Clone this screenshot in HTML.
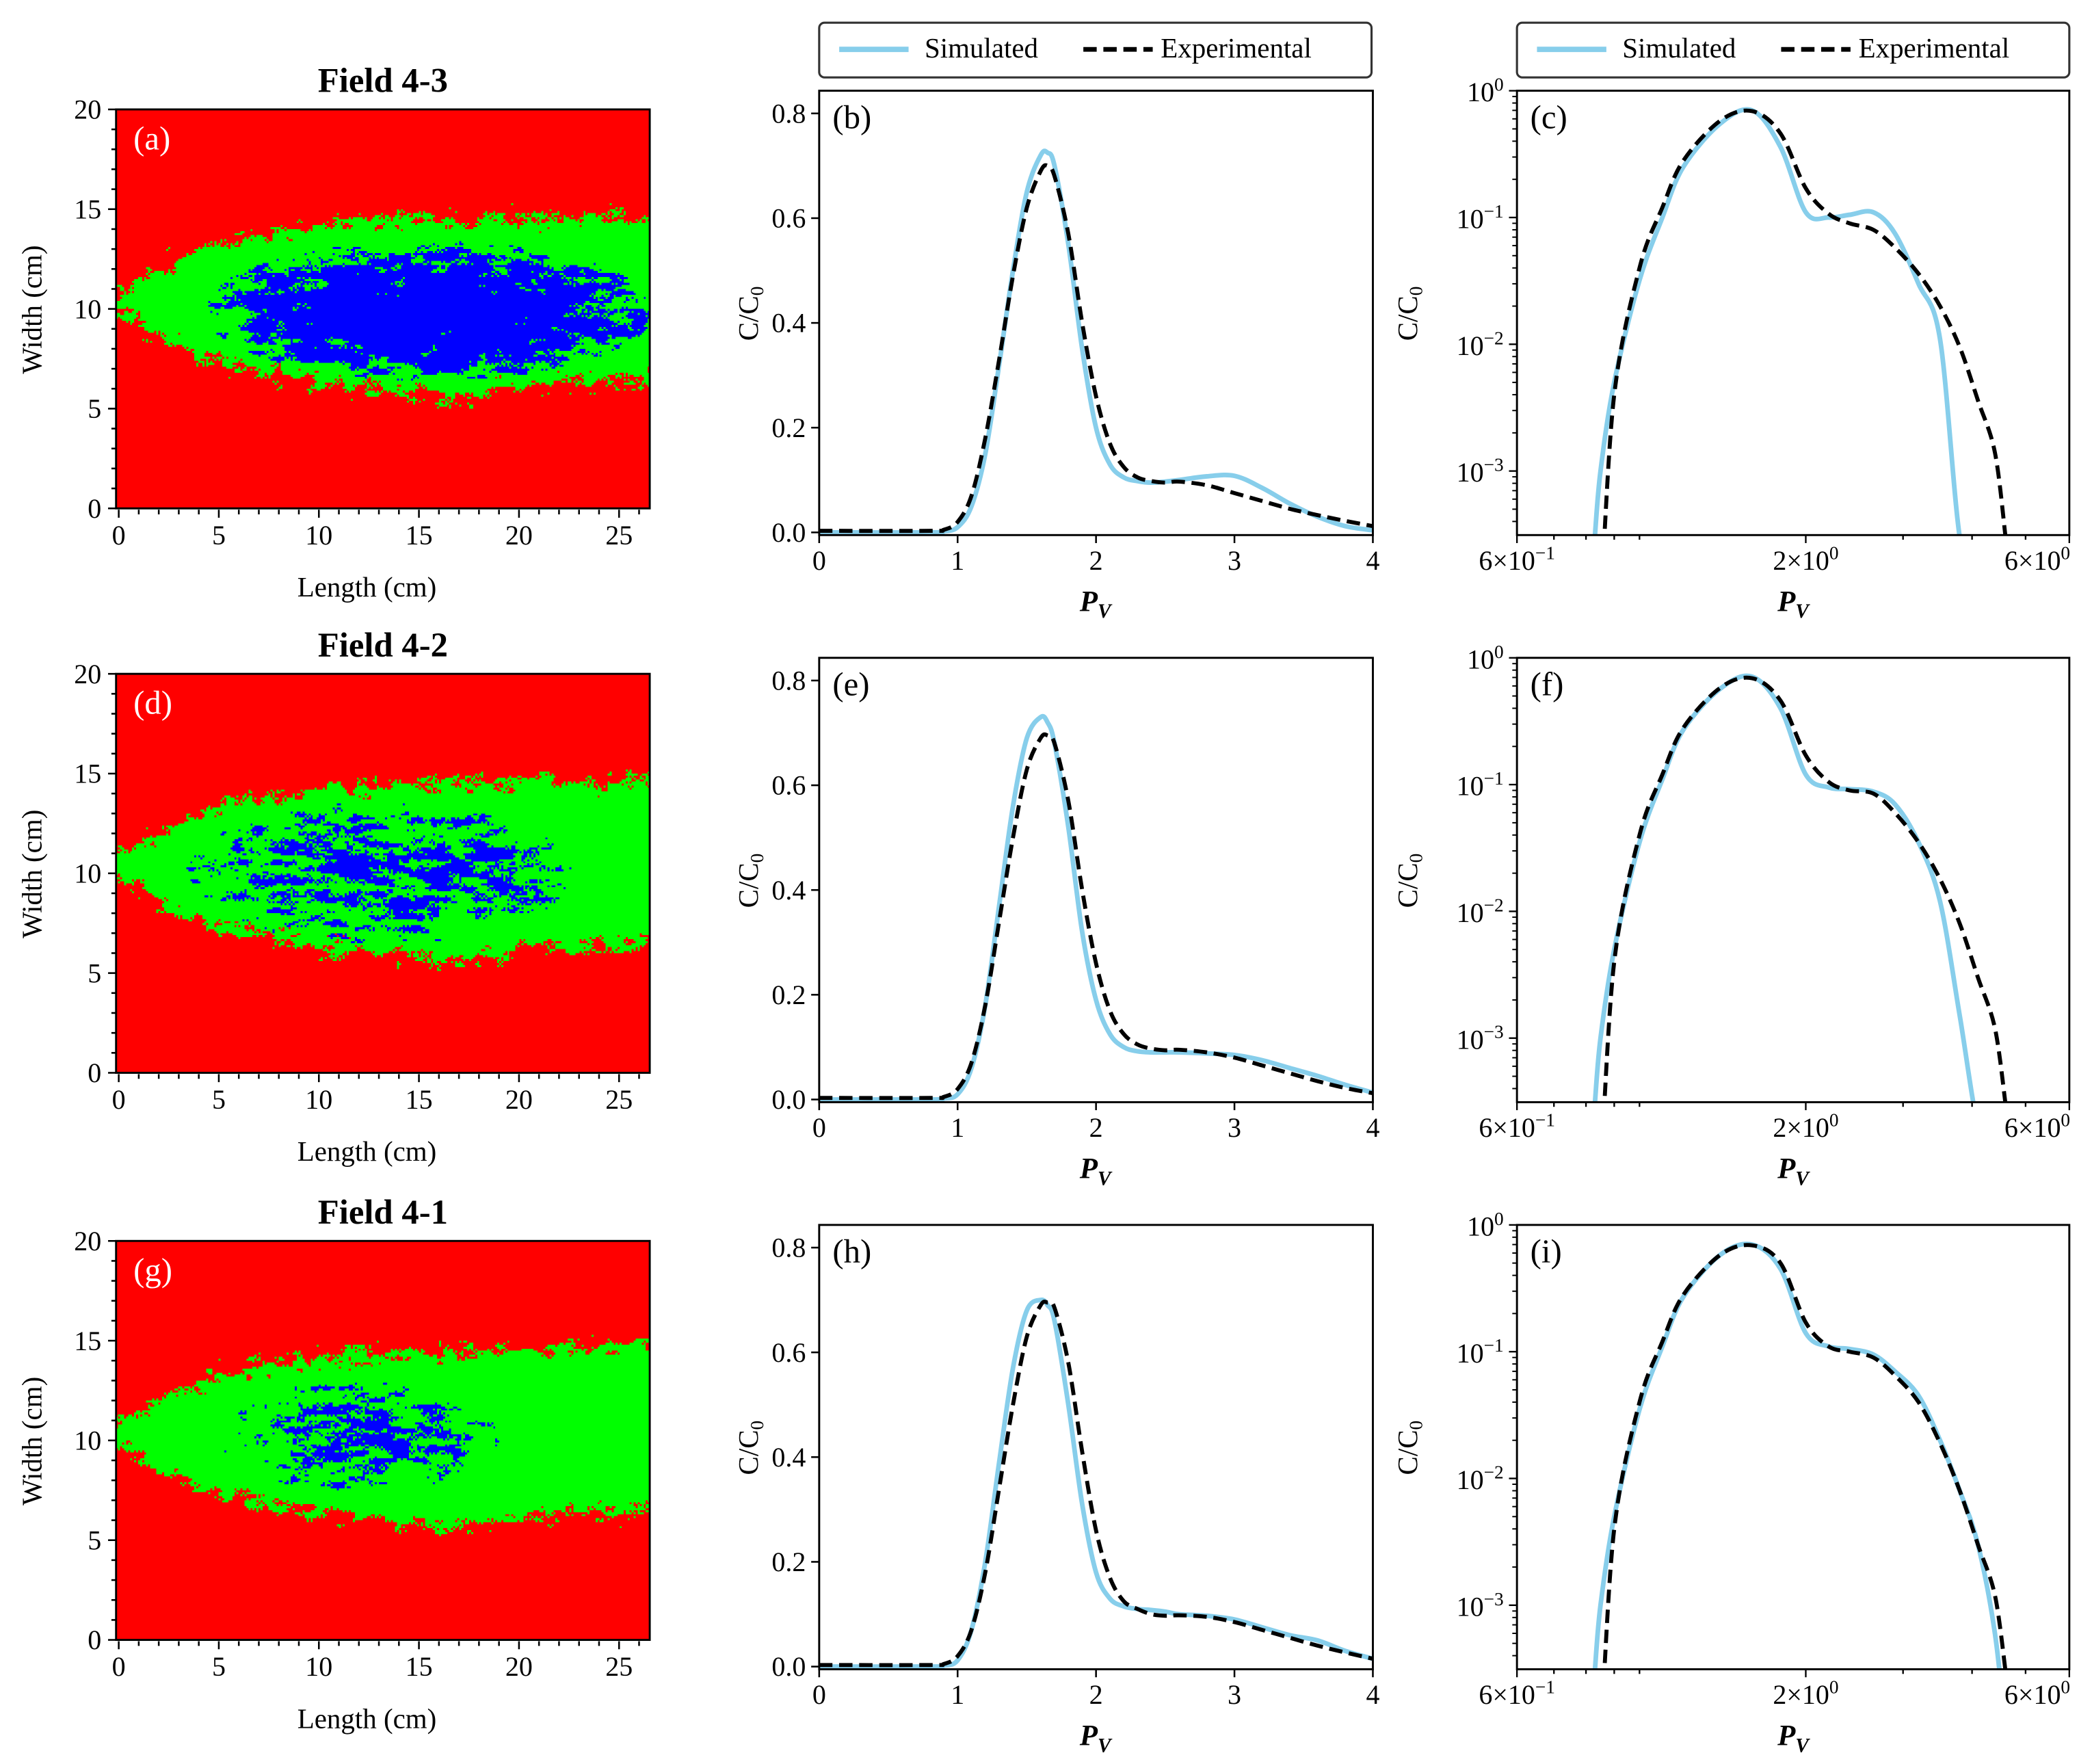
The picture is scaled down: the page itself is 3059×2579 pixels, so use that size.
<!DOCTYPE html>
<html><head><meta charset="utf-8">
<style>
html,body{margin:0;padding:0;background:#fff;}
body{width:3059px;height:2579px;overflow:hidden;position:relative;}
#wrap{position:absolute;left:0;top:0;width:1568px;height:1322px;transform:scale(1.95089,1.95083);transform-origin:0 0;}
svg{position:absolute;left:0;top:0;}
canvas{position:absolute;image-rendering:pixelated;}
text{font-family:"Liberation Serif","DejaVu Serif",serif;fill:#000;}
</style></head>
<body>
<div id="wrap">
<svg id="fig" width="1568" height="1322" viewBox="0 0 1568 1322"></svg>
</div>
<script>
// ---------- data ----------
const linX = [0,0.8,0.9,1.0,1.1,1.2,1.3,1.4,1.5,1.6,1.65,1.7,1.8,1.9,2.0,2.1,2.2,2.3,2.4,2.5,2.6,2.8,3.0,3.2,3.4,3.6,3.8,4.0];
const linExp1 = [0.003,0.003,0.005,0.02,0.07,0.18,0.33,0.49,0.62,0.69,0.70,0.68,0.57,0.40,0.26,0.17,0.125,0.105,0.098,0.095,0.097,0.09,0.075,0.06,0.045,0.033,0.022,0.012];
const linSim1 = [0,0,0.002,0.01,0.05,0.15,0.32,0.50,0.65,0.72,0.725,0.70,0.55,0.35,0.20,0.13,0.105,0.098,0.095,0.097,0.10,0.107,0.108,0.085,0.055,0.03,0.012,0.004];
const linExp2 = [0.003,0.003,0.005,0.02,0.07,0.18,0.34,0.50,0.63,0.69,0.695,0.68,0.57,0.40,0.26,0.17,0.125,0.105,0.097,0.094,0.095,0.09,0.08,0.065,0.05,0.035,0.022,0.012];
const linSim2 = [0,0,0.002,0.01,0.06,0.18,0.37,0.56,0.69,0.73,0.72,0.68,0.52,0.32,0.19,0.125,0.10,0.092,0.09,0.09,0.09,0.088,0.085,0.075,0.06,0.045,0.028,0.013];
const linExp3 = [0.003,0.003,0.005,0.02,0.07,0.18,0.34,0.50,0.63,0.69,0.695,0.685,0.58,0.41,0.26,0.17,0.125,0.11,0.10,0.097,0.098,0.095,0.085,0.07,0.055,0.04,0.027,0.015];
const linSim3 = [0,0,0.002,0.012,0.07,0.20,0.39,0.57,0.68,0.70,0.69,0.66,0.50,0.31,0.18,0.13,0.115,0.11,0.108,0.105,0.10,0.097,0.09,0.075,0.06,0.05,0.03,0.015];
const logX = [0.83,0.85,0.9,1.0,1.1,1.2,1.4,1.6,1.8,2.0,2.2,2.4,2.65,2.9,3.2,3.5,3.8,4.1,4.4,4.6];
const logExp1 = [1e-4,1e-4,0.004,0.04,0.12,0.28,0.58,0.69,0.46,0.17,0.107,0.09,0.08,0.058,0.036,0.02,0.0095,0.0036,0.0014,0.0003];
const logSim1 = [0.0003,0.001,0.005,0.032,0.1,0.25,0.55,0.70,0.36,0.11,0.10,0.105,0.11,0.075,0.03,0.011,0.0003,1e-4,1e-4,1e-4];
const logExp2 = [1e-4,1e-4,0.004,0.04,0.12,0.28,0.58,0.69,0.46,0.17,0.105,0.09,0.085,0.06,0.035,0.018,0.008,0.003,0.0012,0.0003];
const logSim2 = [0.0003,0.001,0.005,0.035,0.11,0.27,0.57,0.71,0.40,0.12,0.095,0.092,0.088,0.07,0.035,0.012,0.0015,0.0002,1e-4,1e-4];
const logExp3 = [1e-4,1e-4,0.004,0.04,0.12,0.28,0.58,0.69,0.50,0.17,0.11,0.10,0.09,0.065,0.04,0.019,0.008,0.003,0.0012,0.0003];
const logSim3 = [0.0003,0.001,0.005,0.035,0.11,0.27,0.58,0.70,0.45,0.14,0.11,0.105,0.095,0.07,0.045,0.02,0.008,0.003,0.0006,1e-4];
const fieldTitles = ["Field 4-3","Field 4-2","Field 4-1"];
const heatLetters = ["(a)","(d)","(g)"];
const linLetters = ["(b)","(e)","(h)"];
const logLetters = ["(c)","(f)","(i)"];
const linXTicks = [0,1,2,3,4];
const linYTicks = [0,0.2,0.4,0.6,0.8];
const heatXTicks = [0,5,10,15,20,25];
const heatYTicks = [0,5,10,15,20];
const logYTicks = [0,-1,-2,-3];

const NS="http://www.w3.org/2000/svg";
const svg=document.getElementById('fig');
function el(tag,attrs,parent){const e=document.createElementNS(NS,tag);for(const k in attrs)e.setAttribute(k,attrs[k]);(parent||svg).appendChild(e);return e;}
function txt(s,x,y,size,anchor,parent,extra){const t=el('text',Object.assign({x:x,y:y,'font-size':size,'text-anchor':anchor||'middle'},extra||{}),parent);t.textContent=s;return t;}
function smooth(pts){let d='M'+pts[0][0].toFixed(2)+','+pts[0][1].toFixed(2);
 for(let i=0;i<pts.length-1;i++){const p0=pts[Math.max(0,i-1)],p1=pts[i],p2=pts[i+1],p3=pts[Math.min(pts.length-1,i+2)];
  const c1=[p1[0]+(p2[0]-p0[0])/6,p1[1]+(p2[1]-p0[1])/6],c2=[p2[0]-(p3[0]-p1[0])/6,p2[1]-(p3[1]-p1[1])/6];
  d+=' C'+c1[0].toFixed(2)+','+c1[1].toFixed(2)+' '+c2[0].toFixed(2)+','+c2[1].toFixed(2)+' '+p2[0].toFixed(2)+','+p2[1].toFixed(2);}
 return d;}

const rowOff=[0,425,850];
const heatOff=[0,423,848];
const linSets=[[linSim1,linExp1],[linSim2,linExp2],[linSim3,linExp3]];
const logSets=[[logSim1,logExp1],[logSim2,logExp2],[logSim3,logExp3]];
const FS=20.5;

// ---------- legends ----------
function legend(x0){
 const g=el('g',{});
 
 
 el('rect',{x:x0,y:17,width:414,height:41,rx:4,fill:'#fff',stroke:'#333','stroke-width':1.6},g);
 const s=el('line',{x1:x0+15,y1:37,x2:x0+67,y2:37,stroke:'#87CEEB','stroke-width':4},g);
 
 
 txt('Simulated',x0+79,43,21,'start',g);
 const e=el('line',{x1:x0+198,y1:37,x2:x0+250,y2:37,stroke:'#000','stroke-width':3.5,'stroke-dasharray':'10,5'},g);
 
 
 txt('Experimental',x0+256,43,21,'start',g);
}
legend(614); legend(1137);

// ---------- panels ----------
for(let r=0;r<3;r++){
 const oy=rowOff[r], hy=heatOff[r];
 const hg=el('g',{});
 
 
 const HX=cm=>89+cm*15, HY=cm=>381+hy-cm*14.95;
 const ttl=txt(fieldTitles[r],287,69+hy,26,'middle',hg,{'font-weight':'bold'});
 
 
 for(let v=0;v<=26;v++){const major=v%5===0;el('line',{x1:HX(v),x2:HX(v),y1:HY(0)+1,y2:HY(0)+1+(major?6:3.5),stroke:'#000','stroke-width':1.3},hg);}
 for(let v=0;v<=20;v++){const major=v%5===0;el('line',{x1:87,x2:87-(major?6:3.5),y1:HY(v),y2:HY(v),stroke:'#000','stroke-width':1.3},hg);}
 heatXTicks.forEach(v=>txt(String(v),HX(v),HY(0)+27,FS,'middle',hg));
 heatYTicks.forEach(v=>txt(String(v),76,HY(v)+7,FS,'end',hg));
 txt('Length (cm)',275,HY(0)+66,21,'middle',hg);
 const yl=txt('Width (cm)',0,0,21,'middle',hg,{transform:'translate(31,'+(232+hy)+') rotate(-90)'});
 
 

 // linear panel
 const L={l:614,r:1029,t:68+oy,b:401+oy};
 const LX=v=>L.l+v*(L.r-L.l)/4, LY=v=>399+oy-v*392.5;
 const lg=el('g',{});
 
 
 const cid='clipL'+r;
 const cp=el('clipPath',{id:cid},lg); el('rect',{x:L.l,y:L.t,width:L.r-L.l,height:L.b-L.t},cp);
 const sets=linSets[r];
 const sp=el('path',{d:smooth(linX.map((x,i)=>[LX(x),LY(sets[0][i])])),fill:'none',stroke:'#87CEEB','stroke-width':3.5,'clip-path':'url(#'+cid+')'},lg);
 
 
 const ep=el('path',{d:smooth(linX.map((x,i)=>[LX(x),LY(sets[1][i])])),fill:'none',stroke:'#000','stroke-width':3,'stroke-dasharray':'10,5','clip-path':'url(#'+cid+')'},lg);
 
 
 el('rect',{x:L.l,y:L.t,width:L.r-L.l,height:L.b-L.t,fill:'none',stroke:'#000','stroke-width':1.5},lg);
 linXTicks.forEach(v=>{el('line',{x1:LX(v),x2:LX(v),y1:L.b,y2:L.b+6,stroke:'#000','stroke-width':1.3},lg);txt(String(v),LX(v),L.b+26,FS,'middle',lg);});
 linYTicks.forEach(v=>{el('line',{x1:L.l,x2:L.l-6,y1:LY(v),y2:LY(v),stroke:'#000','stroke-width':1.3},lg);txt(v.toFixed(1),L.l-10,LY(v)+7,FS,'end',lg);});
 const pv=txt('',821,L.b+57,22,'middle',lg,{'font-style':'italic','font-weight':'bold'});
 pv.innerHTML='P<tspan font-size="15" dy="5">V</tspan>';
 const cy=txt('',0,0,21,'middle',lg,{transform:'translate(568,'+(235+oy)+') rotate(-90)'});
 cy.innerHTML='C/C<tspan font-size="14" dy="4">0</tspan>';
 txt(linLetters[r],624,L.t+28,25,'start',lg);

 // log panel
 const G={l:1137,r:1551,t:68+oy,b:401+oy};
 const GX=v=>G.l+Math.log10(v/0.6)*414, GY=v=>G.t-Math.log10(v)*95;
 const gg=el('g',{});
 
 
 const gid='clipG'+r;
 const cp2=el('clipPath',{id:gid},gg); el('rect',{x:G.l,y:G.t,width:G.r-G.l,height:G.b-G.t},cp2);
 const ls=logSets[r];
 const lsp=el('path',{d:smooth(logX.map((x,i)=>[GX(x),GY(ls[0][i])])),fill:'none',stroke:'#87CEEB','stroke-width':3.5,'clip-path':'url(#'+gid+')'},gg);
 
 
 const lep=el('path',{d:smooth(logX.map((x,i)=>[GX(x),GY(ls[1][i])])),fill:'none',stroke:'#000','stroke-width':3,'stroke-dasharray':'10,5','clip-path':'url(#'+gid+')'},gg);
 
 
 el('rect',{x:G.l,y:G.t,width:G.r-G.l,height:G.b-G.t,fill:'none',stroke:'#000','stroke-width':1.5},gg);
 [0.6,0.7,0.8,0.9,1,2,3,4,5,6].forEach(v=>{const major=(v===0.6||v===2||v===6);el('line',{x1:GX(v),x2:GX(v),y1:G.b,y2:G.b+(major?6:3.5),stroke:'#000','stroke-width':1.2},gg);});
 [[0.6,'6×10','−1',0],[2,'2×10','0',0],[6,'6×10','0',-24]].forEach(t=>{const tt=txt('',GX(t[0])+t[3],G.b+26,FS,'middle',gg);tt.innerHTML=t[1]+'<tspan font-size="14" dy="-8">'+t[2]+'</tspan>';});
 logYTicks.forEach(p=>{el('line',{x1:G.l,x2:G.l-6,y1:GY(Math.pow(10,p)),y2:GY(Math.pow(10,p)),stroke:'#000','stroke-width':1.2},gg);
   const tt=txt('',G.l-10,GY(Math.pow(10,p))+8,FS,'end',gg);tt.innerHTML='10<tspan font-size="14" dy="-8">'+(p===0?'0':'−'+(-p))+'</tspan>';
   for(let m=2;m<=9;m++){const v=m*Math.pow(10,p-1);const yy=GY(v);if(yy<=G.b&&yy>=G.t)el('line',{x1:G.l,x2:G.l-3.5,y1:yy,y2:yy,stroke:'#000','stroke-width':1},gg);}});
 const pv2=txt('',1344,G.b+57,22,'middle',gg,{'font-style':'italic','font-weight':'bold'});
 pv2.innerHTML='P<tspan font-size="15" dy="5">V</tspan>';
 const cy2=txt('',0,0,21,'middle',gg,{transform:'translate(1062,'+(235+oy)+') rotate(-90)'});
 cy2.innerHTML='C/C<tspan font-size="14" dy="4">0</tspan>';
 txt(logLetters[r],1147,G.t+28,25,'start',gg);
}

// ---------- heatmaps (canvas) ----------
function hash(i,j,s){let h=(i*374761393+j*668265263+s*982451653)|0;h=(h^(h>>>13))*1274126177|0;h^=h>>>16;return (h>>>0)/4294967296;}
function vn(x,y,s){const xi=Math.floor(x),yi=Math.floor(y),fx=x-xi,fy=y-yi;const u=fx*fx*(3-2*fx),v=fy*fy*(3-2*fy);
 const a=hash(xi,yi,s),b=hash(xi+1,yi,s),c=hash(xi,yi+1,s),d=hash(xi+1,yi+1,s);return a+(b-a)*u+(c-a)*v+(a-b-c+d)*u*v;}
function interp(xs,ys,x){if(x<=xs[0])return ys[0];for(let i=1;i<xs.length;i++)if(x<=xs[i])return ys[i-1]+(ys[i]-ys[i-1])*(x-xs[i-1])/(xs[i]-xs[i-1]);return ys[ys.length-1];}
const envX=[-0.2,0,2,5,10,15,17,20,26.5];
const envTop=[10.7,10.8,12,13.3,14.2,14.5,14.5,14.5,14.7];
const envBot=[9.9,9.8,8.5,7.3,6.3,5.8,5.5,6.2,6.5];
const blueCfg=[{xc:15.5,rx:11.2,yc:9.9,ry:3.5,thr:0.62,wt:0.5,wmin:0},{xc:13,rx:9,yc:10,ry:3.3,thr:0.66,wt:0.25,wmin:-0.15},{xc:12,rx:6.5,yc:10.2,ry:2.6,thr:0.70,wt:0.25,wmin:-0.15}];
for(let r=0;r<3;r++){
 const cv=document.createElement('canvas');
 
 
 const NX=266,NY=200;cv.width=NX;cv.height=NY;
 cv.style.left='87px';cv.style.top=(82+heatOff[r])+'px';cv.style.width='400px';cv.style.height='299px';
 const ctx=cv.getContext('2d');const img=ctx.createImageData(NX,NY);const cfg=blueCfg[r];
 for(let j=0;j<NY;j++)for(let i=0;i<NX;i++){
  const x=-0.13+(i+0.5)*26.63/NX, y=20-(j+0.5)*0.1;
  const fz=(vn(x/0.5,y/0.3,7+r)-0.5)*1.2+(hash(i,j,11+r)-0.5)*0.6;
  const top=interp(envX,envTop,x)+fz, bot=interp(envX,envBot,x)-fz;
  let col=[255,0,0];
  if(y<top&&y>bot)col=[0,255,0];
  const w=1-Math.pow((x-cfg.xc)/cfg.rx,2)-Math.pow((y-cfg.yc)/cfg.ry,2);
  if(col[1]===255&&w>cfg.wmin){
   const n=0.5*vn(x/1.0,y/0.3,3+r)+0.3*vn(x/0.35,y/0.15,5+r)+0.2*hash(i,j,9+r);
   if(n>cfg.thr-cfg.wt*w)col=[0,0,255];
  }
  const k=(j*NX+i)*4;img.data[k]=col[0];img.data[k+1]=col[1];img.data[k+2]=col[2];img.data[k+3]=255;}
 ctx.putImageData(img,0,0);
 document.getElementById('wrap').appendChild(cv);
 const ov=document.createElementNS(NS,'svg');ov.setAttribute('width','1568');ov.setAttribute('height','1322');
 
 
 document.getElementById('wrap').appendChild(ov);
 el('rect',{x:87,y:82+heatOff[r],width:400,height:299,fill:'none',stroke:'#000','stroke-width':1.5},ov);
 const lt=txt(heatLetters[r],100,112+heatOff[r],25,'start',ov);lt.setAttribute('fill','#fff');lt.style.fill='#fff';
}
</script>
</body></html>
